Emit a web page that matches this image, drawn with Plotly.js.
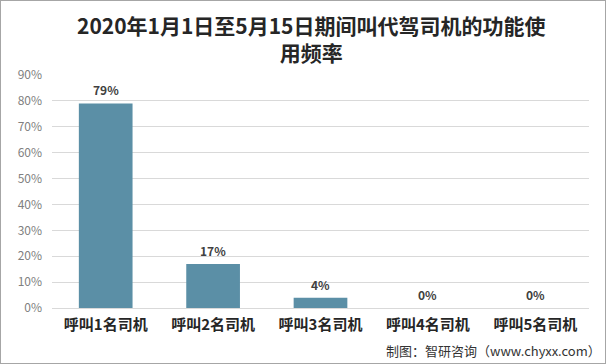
<!DOCTYPE html>
<html>
<head>
<meta charset="utf-8">
<script src="https://cdn.plot.ly/plotly-3.0.1.min.js"></script>
<style>
html,body{margin:0;padding:0;background:#fff;}
#wrap{width:606px;height:364px;box-sizing:border-box;border:1px solid #a6a6a6;}
#chart{width:604px;height:362px;}
</style>
</head>
<body>
<div id="wrap"><div id="chart"></div></div>
<script>
const categories = ['呼叫1名司机','呼叫2名司机','呼叫3名司机','呼叫4名司机','呼叫5名司机'];
const values = [79, 17, 4, 0, 0];
const tickVals = [0,10,20,30,40,50,60,70,80,90];
const tickText = ['0%','10%','20%','30%','40%','50%','60%','70%','80%','90%'];
const titleText = '2020年1月1日至5月15日期间叫代驾司机的功能使<br>用频率';
const sourceText = '制图：智研咨询（www.chyxx.com）';

const cjk = '"Noto Sans CJK SC", "Noto Sans", sans-serif';

const trace = {
  type: 'bar',
  x: categories,
  y: values,
  marker: {color: '#5B8FA6', line: {width: 0}},
  hoverinfo: 'none'
};

const labelAnns = categories.map((c, i) => ({
  x: c, y: values[i], xref: 'x', yref: 'y',
  text: values[i] + '%', showarrow: false,
  yanchor: 'bottom', yshift: 3,
  font: {family: cjk, size: 12, color: '#404040', weight: 'bold'}
}));

const layout = {
  width: 604, height: 362,
  margin: {l: 51, r: 16, t: 74, b: 55},
  paper_bgcolor: '#ffffff', plot_bgcolor: '#ffffff',
  bargap: 0.5,
  showlegend: false,
  xaxis: {
    type: 'category',
    showgrid: false, zeroline: false, showline: false,
    ticks: '', ticklen: 0,
    tickfont: {family: cjk, size: 15, color: '#262626', weight: 'bold'},
    ticklabelstandoff: 6,
    fixedrange: true
  },
  yaxis: {
    range: [0, 90],
    tickvals: tickVals, ticktext: tickText,
    showgrid: true, gridcolor: '#d9d9d9', gridwidth: 1,
    zeroline: true, zerolinecolor: '#d9d9d9', zerolinewidth: 1,
    showline: false, ticks: '',
    tickfont: {family: cjk, size: 12, color: '#808080'},
    ticklabelstandoff: 9,
    fixedrange: true
  },
  annotations: labelAnns.concat([
    {
      text: titleText, xref: 'paper', yref: 'paper',
      x: 0.484, y: 1.156, xanchor: 'center', yanchor: 'middle',
      showarrow: false, align: 'center',
      font: {family: cjk, size: 21, color: '#262626', weight: 'bold'}
    },
    {
      text: sourceText, xref: 'paper', yref: 'paper',
      x: 1.027, y: -0.135, xanchor: 'right', yanchor: 'top',
      showarrow: false,
      font: {family: cjk, size: 13, color: '#333333'}
    }
  ])
};

Plotly.newPlot('chart', [trace], layout, {staticPlot: true, displayModeBar: false});
</script>
</body>
</html>
